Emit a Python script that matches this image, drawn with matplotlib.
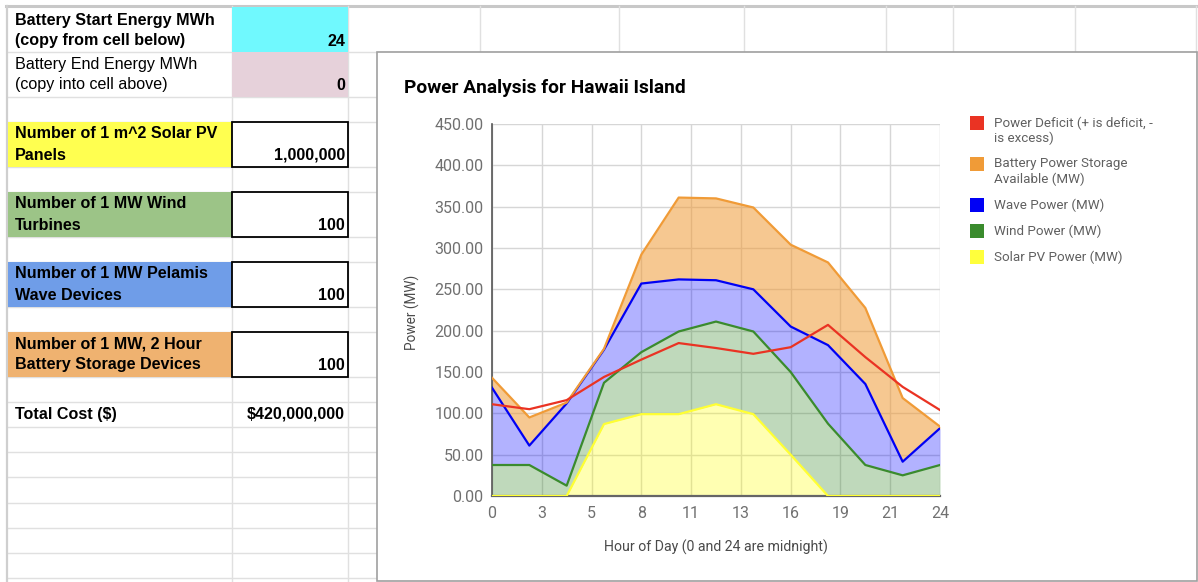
import matplotlib
matplotlib.use('Agg')
import matplotlib.pyplot as plt
from matplotlib.patches import Rectangle
import numpy as np

# ---------------- data ----------------
hours = [0, 2, 4, 6, 8, 10, 12, 14, 16, 18, 20, 22, 24]
solar_pv = [0, 0, 0, 87, 99, 99, 111, 99, 50, 0, 0, 0, 0]
wind_power = [37.5, 37.5, 12.5, 50, 75, 100, 100, 100, 100, 87.5, 37.5, 25, 37.5]
wave_power = [93.5, 23.5, 99.5, 40, 83, 63, 50, 51, 55, 95, 98, 16.5, 44.5]
battery_power = [12, 34, 1, 1, 35, 99, 99, 99, 99, 100, 92, 77, 2]
power_deficit = [111, 105, 116, 144, 165, 185, 179, 172, 180, 207, 168, 132, 104]

series_names = ["Power Deficit (+ is deficit, -\nis excess)",
                "Battery Power Storage\nAvailable (MW)",
                "Wave Power (MW)", "Wind Power (MW)", "Solar PV Power (MW)"]
y_ticks = [0, 50, 100, 150, 200, 250, 300, 350, 400, 450]

sheet_labels = [
    ("Battery Start Energy MWh\n(copy from cell below)", "24", True),
    ("Battery End Energy MWh\n(copy into cell above)", "0", False),
    ("Number of 1 m^2 Solar PV\nPanels", "1,000,000", True),
    ("Number of 1 MW Wind\nTurbines", "100", True),
    ("Number of 1 MW Pelamis\nWave Devices", "100", True),
    ("Number of 1 MW, 2 Hour\nBattery Storage Devices", "100", True),
    ("Total Cost ($)", "$420,000,000", True),
]

# ---------------- figure ----------------
W, H = 1198, 582
fig = plt.figure(figsize=(W / 100, H / 100), dpi=100)
bg = fig.add_axes([0, 0, 1, 1])
bg.set_xlim(0, W)
bg.set_ylim(H, 0)
bg.axis('off')

GRID = '#e0e0e0'
SHEET_FONT = ['Liberation Sans', 'DejaVu Sans']
CHART_FONT = ['Roboto', 'DejaVu Sans']

# spreadsheet row lines
row_lines = [52, 97, 122, 167, 192, 237, 262, 307, 332, 377, 402, 427,
             452, 477, 503, 528, 553, 578]
for y in row_lines:
    x1 = W if y <= 52 else 377
    bg.plot([7, x1], [y, y], color=GRID, lw=1, zorder=1)
# top frozen border
bg.plot([6, W], [6, 6], color='#c8c8c8', lw=2.2, zorder=1)
bg.plot([7, 7], [6, H], color='#cfcfcf', lw=1.6, zorder=1)
# column lines
for x in [232, 348]:
    bg.plot([x, x], [6, H], color=GRID, lw=1, zorder=1)
for x in [480, 619, 744, 886, 953, 1075, 1196]:
    bg.plot([x, x], [6, 52], color=GRID, lw=1, zorder=1)

# coloured cells
def cell(x0, y0, x1, y1, fc, ec='none', lw=0, z=2):
    bg.add_patch(Rectangle((x0, y0), x1 - x0, y1 - y0, facecolor=fc,
                           edgecolor=ec, lw=lw, zorder=z))

cell(232, 7, 348, 52, '#70f9fe')
cell(232, 52, 348, 97, '#e6d1da')
label_colors = ['#ffff50', '#9cc487', '#6f9de8', '#efb270']
label_rows = [(122, 167), (192, 237), (262, 307), (332, 377)]
for (y0, y1), c in zip(label_rows, label_colors):
    cell(8, y0, 232, y1, c)
    cell(232, y0, 348, y1, 'white', ec='black', lw=1.3, z=3)

# spreadsheet text
line_pos = [(20, 41), (65, 85), (134, 155), (204, 225), (274, 295), (344, 365), (414, 414)]
for (lab, val, bold), (ya, yb) in zip(sheet_labels, line_pos):
    parts = lab.split('\n')
    ys = [ya, yb] if len(parts) == 2 else [ya]
    for p, yy in zip(parts, ys):
        bg.text(15, yy, p, fontsize=11.6, family=SHEET_FONT,
                fontweight='bold' if bold else 'normal', va='center', ha='left',
                color='black', zorder=5)
    bg.text(345, yb, val, fontsize=11.6, family=SHEET_FONT, fontweight='bold',
            va='center', ha='right', color='black', zorder=5)

# chart box
cell(377, 52, 1197, 581, 'white', ec='#a0a0a0', lw=1.2, z=4)

bg.text(404, 88, 'Power Analysis for Hawaii Island', fontsize=13.8,
        family=CHART_FONT, fontweight='bold', va='center', ha='left',
        color='black', zorder=6)
bg.text(412, 312, 'Power (MW)', fontsize=9.8, family=CHART_FONT, rotation=90,
        va='center', ha='center', color='#4a4a4a', zorder=6)
bg.text(716, 547, 'Hour of Day (0 and 24 are midnight)', fontsize=10.2,
        family=CHART_FONT, va='center', ha='center', color='#4a4a4a', zorder=6)

# legend
leg_colors = ['#ea3323', '#f09b37', '#0000f5', '#3a8b2d', '#ffff3c']
leg_y = [123, 164, 205, 231, 257]
for name, c, yy in zip(series_names, leg_colors, leg_y):
    bg.add_patch(Rectangle((970, yy - 7), 14, 14, facecolor=c, edgecolor='none', zorder=6))
    for k, p in enumerate(name.split('\n')):
        bg.text(994, yy + 15 * k, p, fontsize=9.6, family=CHART_FONT,
                va='center', ha='left', color='#606060', zorder=6)

# ---------------- plot axes ----------------
ax = fig.add_axes([492 / W, 1 - 496 / H, (940 - 492) / W, (496 - 124) / H])
ax.set_zorder(10)
ax.patch.set_alpha(0)

x = np.array(hours, dtype=float)
l1 = np.array(solar_pv, dtype=float)
l2 = l1 + np.array(wind_power)
l3 = l2 + np.array(wave_power)
l4 = l3 + np.array(battery_power)

ax.fill_between(x, 0, l1, color='#ffff00', alpha=0.3, lw=0, zorder=2)
ax.fill_between(x, l1, l2, color='#3a8b2d', alpha=0.32, lw=0, zorder=2)
ax.fill_between(x, l2, l3, color='#0000ff', alpha=0.3, lw=0, zorder=2)
ax.fill_between(x, l3, l4, color='#f09b37', alpha=0.55, lw=0, zorder=2)

ax.plot(x, l1, color='#ffff33', lw=1.6, zorder=3)
ax.plot(x, l2, color='#3a8b2d', lw=1.6, zorder=3)
ax.plot(x, l3, color='#0000f5', lw=1.6, zorder=3)
ax.plot(x, l4, color='#f09b37', lw=1.6, zorder=3)
ax.plot(x, power_deficit, color='#ea3323', lw=1.6, zorder=4)

ax.set_xlim(0, 24)
ax.set_ylim(0, 450)
xt = np.linspace(0, 24, 10)
ax.set_xticks(xt)
ax.set_xticklabels([f"{int(round(v))}" for v in xt])
ax.set_yticks(y_ticks)
ax.set_yticklabels([f"{v:.2f}" for v in y_ticks])
ax.grid(True, color='#d6d6d6', lw=1)
ax.set_axisbelow(True)
for s in ['top', 'right']:
    ax.spines[s].set_visible(False)
ax.spines['left'].set_color('#555555')
ax.spines['left'].set_linewidth(1.2)
ax.spines['bottom'].set_color('#666666')
ax.spines['bottom'].set_linewidth(1.6)
ax.tick_params(length=0, labelsize=11.5, colors='#707070')
ax.tick_params(axis='y', pad=6)
ax.tick_params(axis='x', pad=7)
for lab in ax.get_xticklabels() + ax.get_yticklabels():
    lab.set_family(CHART_FONT)

fig.savefig('out.png', dpi=100)
